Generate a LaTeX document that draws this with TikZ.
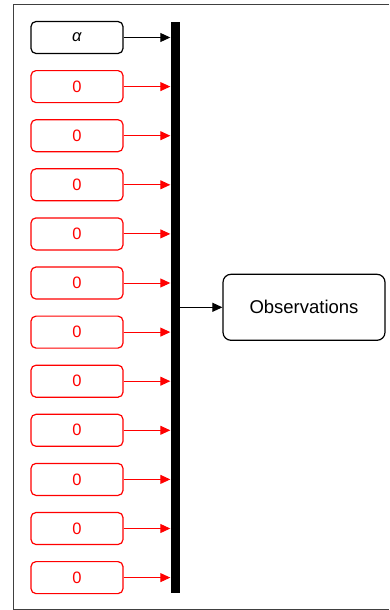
\documentclass[tikz,border=0pt]{standalone}
\usepackage{fontspec}
\setmainfont{Liberation Sans}
\usetikzlibrary{arrows.meta}
\begin{document}
\begin{tikzpicture}[x=1pt,y=-1pt,
  inbox/.style={draw=black,line width=1.2pt,rounded corners=5pt,minimum width=92pt,minimum height=32pt,inner sep=0pt,font=\fontsize{16.5}{18}\selectfont},
  zerobox/.style={inbox,draw=red,text=red},
  feed/.style={-{Triangle[length=10pt,width=9pt]},line width=1pt},
  redfeed/.style={feed,draw=red,fill=red}]
\useasboundingbox (0,0) rectangle (389,610);
% frame
\draw[line width=1.5pt,draw=black!75] (389,4.5) -- (13.5,4.5) -- (13.5,609.3) -- (389,609.3);
% mux bar
\node[fill=black,inner sep=0pt,minimum width=9.5pt,minimum height=571pt] (bar) at (175.25,307.5) {};
% first input
\node[inbox] (a0) at (77,37.5) {\textit{α}};
\draw[feed] (a0.east) -- (a0.east -| bar.west);
% zero inputs
\foreach \i in {1,...,11}{
  \node[zerobox] (z\i) at (77,37.5+49.1*\i) {0};
  \draw[redfeed] (z\i.east) -- (z\i.east -| bar.west);
}
% output
\node[draw=black,line width=1.2pt,rounded corners=8pt,minimum width=162pt,minimum height=66pt,inner sep=0pt,font=\fontsize{18.5}{21}\selectfont] (obs) at (304,307.3) {Observations};
\draw[feed] (bar.east |- obs.west) -- (obs.west);
\end{tikzpicture}
\end{document}
